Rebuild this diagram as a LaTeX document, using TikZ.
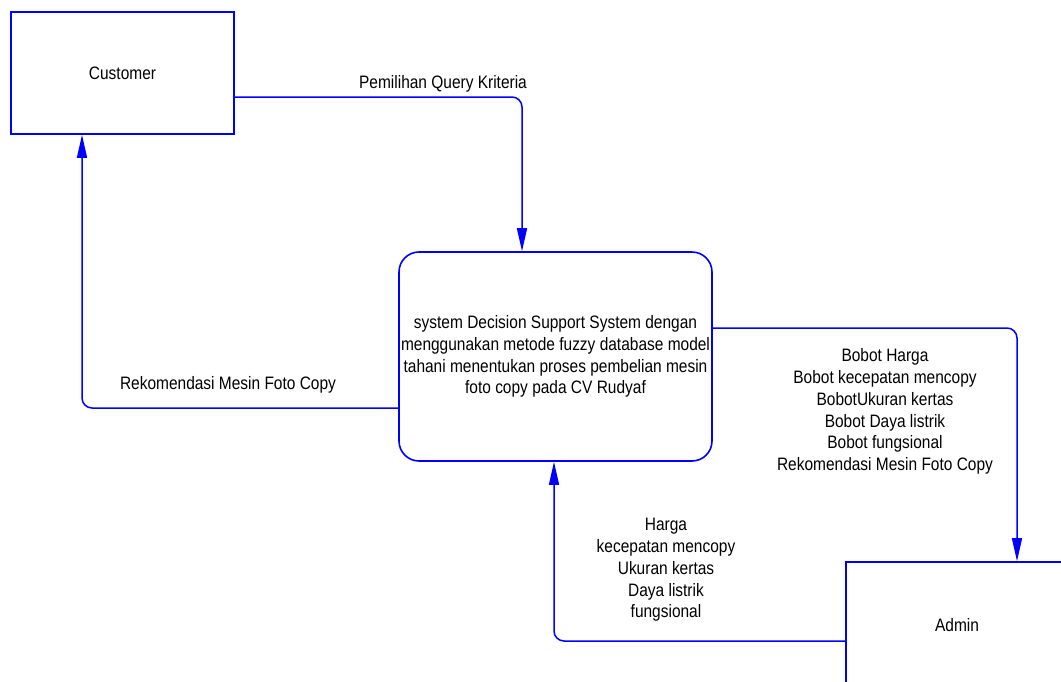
\documentclass[tikz,border=0pt]{standalone}
\usepackage{fontspec}
\setmainfont{Liberation Sans}[FakeStretch=0.86]
\usetikzlibrary{arrows.meta}
\definecolor{dfdblue}{RGB}{0,0,255}
\newcommand{\dfdfont}{\fontsize{18}{21.7}\selectfont}
\begin{document}
\begin{tikzpicture}[x=1pt,y=-1pt,
  entity/.style={draw=dfdblue, line width=1.6pt, minimum width=223pt,
    minimum height=122pt, inner sep=0pt, font=\dfdfont},
  process/.style={draw=dfdblue, line width=1.6pt, rounded corners=20pt,
    minimum width=313pt, minimum height=209pt, inner sep=0pt,
    align=center, font=\dfdfont},
  flow/.style={draw=dfdblue, line width=1.5pt, rounded corners=10pt,
    -{Triangle[width=10pt,length=23pt]}},
  flowlabel/.style={align=center, font=\dfdfont, inner sep=0pt}]
  \clip (0,0) rectangle (1061,681);
  \fill[white] (0,0) rectangle (1061,681);

  % external entities and the process
  \node[entity] (cust) at (122.5,73) {Customer};
  \node[process] (dss) at (555.5,356.5)
    {system Decision Support System dengan\\
     menggunakan metode fuzzy database model\\
     tahani menentukan proses pembelian mesin\\
     foto copy pada CV Rudyaf};
  \node[entity, minimum width=222pt, minimum height=126pt] (admin) at (957,625) {Admin};

  % data flows
  \draw[flow] ([yshift=-24pt]cust.east) -| ([xshift=-33.5pt]dss.north);
  \draw[flow] ([yshift=-51.5pt]dss.west) -| ([xshift=-40.5pt]cust.south);
  \draw[flow] ([yshift=28.5pt]dss.east) -| ([xshift=60pt]admin.north);
  \draw[flow] ([yshift=-16pt]admin.west) -| ([xshift=-1.5pt]dss.south);

  % flow labels
  \node[flowlabel, anchor=base] (lquery) at (443,88) {Pemilihan Query Kriteria};
  \node[flowlabel, anchor=base] (lrekom) at (228,389) {Rekomendasi Mesin Foto Copy};
  \node[flowlabel] (lbobot) at (885,411.5)
    {Bobot Harga\\ Bobot kecepatan mencopy\\ BobotUkuran kertas\\
     Bobot Daya listrik\\ Bobot fungsional\\ Rekomendasi Mesin Foto Copy};
  \node[flowlabel] (lkrit) at (666,570)
    {Harga\\ kecepatan mencopy\\ Ukuran kertas\\ Daya listrik\\ fungsional};
\end{tikzpicture}
\end{document}
